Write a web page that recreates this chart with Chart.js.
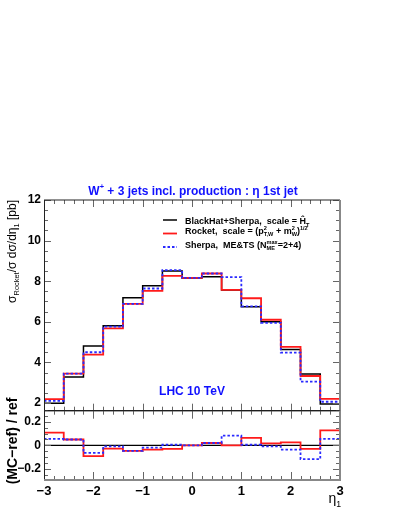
<!DOCTYPE html>
<html><head><meta charset="utf-8">
<script src="https://cdn.jsdelivr.net/npm/chart.js@4.4.0/dist/chart.umd.min.js"></script>
<style>
html,body{margin:0;padding:0;background:#fff;}
#wrap{position:relative;width:399px;height:516px;background:#fff;}
canvas{position:absolute;left:0;top:0;}
</style></head><body>
<div id="wrap">
<canvas id="main" width="399" height="516"></canvas>
<canvas id="ratio" width="399" height="516"></canvas>
</div>
<script>
// ---- data ----
const binEdges = [-3.0,-2.6,-2.2,-1.8,-1.4,-1.0,-0.6,-0.2,0.2,0.6,1.0,1.4,1.8,2.2,2.6,3.0];
const blackHatSherpa = [1.99,3.28,4.81,5.81,7.19,7.78,8.50,8.16,8.22,7.57,6.74,6.00,4.64,3.43,1.95];
const rocket        = [2.19,3.45,4.38,5.68,6.88,7.52,8.26,8.16,8.38,7.57,7.16,6.10,4.76,3.33,2.20];
const sherpaMETS    = [2.10,3.45,4.50,5.76,6.88,7.64,8.55,8.16,8.38,8.20,6.76,5.95,4.48,3.05,2.06];
const ratioRef      = [0,0,0,0,0,0,0,0,0,0,0,0,0,0,0];
const ratioRocket   = [0.108,0.050,-0.092,-0.028,-0.047,-0.036,-0.030,0.000,0.020,0.000,0.064,0.017,0.025,-0.030,0.128];
const ratioSherpa   = [0.055,0.050,-0.064,-0.008,-0.047,-0.020,0.005,0.000,0.020,0.083,0.005,-0.008,-0.036,-0.117,0.055];
const xTickValues = [-3,-2,-1,0,1,2,3];
const xTickLabels = ['\u22123','\u22122','\u22121','0','1','2','3'];
const yTickValues = [2,4,6,8,10,12];
const yTickLabels = ['2','4','6','8','10','12'];
const rTickValues = [-0.2,0,0.2];
const rTickLabels = ['\u22120.2','0','0.2'];

const FONT = '"Liberation Sans", Arial, Helvetica, sans-serif';
const BLUE = '#1010ff';

function histPoints(vals){
  const pts = vals.map((v,i)=>({x:binEdges[i], y:v}));
  pts.push({x:binEdges[vals.length], y:vals[vals.length-1]});
  return pts;
}

function richText(ctx, x, y, parts, size, weight, measureOnly){
  let cx = x;
  for (const p of parts){
    if (typeof p === 'string'){
      ctx.font = `${weight} ${size}px ${FONT}`;
      if(!measureOnly) ctx.fillText(p, cx, y);
      cx += ctx.measureText(p).width;
    } else {
      const s = size*0.62;
      ctx.font = `${weight} ${s}px ${FONT}`;
      let w = 0;
      if (p.sup){ if(!measureOnly) ctx.fillText(p.sup, cx, y - size*0.42); w = Math.max(w, ctx.measureText(p.sup).width); }
      if (p.sub){ if(!measureOnly) ctx.fillText(p.sub, cx, y + size*0.28); w = Math.max(w, ctx.measureText(p.sub).width); }
      cx += w;
    }
  }
  return cx - x;
}

function drawTicksFrame(chart, o){
  const {ctx, chartArea:a} = chart;
  const xs = chart.scales.x, ys = chart.scales.y;
  ctx.save();
  ctx.strokeStyle = '#666'; ctx.lineWidth = 1;
  const line=(x1,y1,x2,y2)=>{ctx.beginPath();ctx.moveTo(x1,y1);ctx.lineTo(x2,y2);ctx.stroke();};
  for (let v=-3; v<=3.0001; v+=0.2){
    const major = Math.abs(v-Math.round(v))<1e-6;
    const len = major ? o.xMaj : o.xMin;
    const px = Math.round(xs.getPixelForValue(v))+0.5;
    line(px, a.bottom, px, a.bottom-len);
    line(px, a.top, px, a.top+len);
  }
  for (let v=o.yStart; v<=o.yEnd+1e-9; v+=o.yStep){
    const major = Math.abs(v/o.yMajor - Math.round(v/o.yMajor))<1e-6;
    const len = major ? o.yMajLen : o.yMinLen;
    const py = Math.round(ys.getPixelForValue(v))+0.5;
    if (py < a.top-0.5 || py > a.bottom+0.5) continue;
    line(a.left, py, a.left+len, py);
    line(a.right, py, a.right-len, py);
  }
  ctx.strokeStyle = '#222'; ctx.lineWidth = 1;
  line(a.left+0.5, a.top, a.left+0.5, a.bottom);
  line(a.left, a.top, a.right, a.top);
  ctx.strokeStyle = '#888'; ctx.lineWidth = 2;
  line(a.right, a.top, a.right, a.bottom+1);
  if (o.grayBottom){ line(a.left, a.bottom, a.right+1, a.bottom); }
  else { ctx.strokeStyle = '#111'; ctx.lineWidth = 1.2; line(a.left, a.bottom, a.right, a.bottom); }
  ctx.restore();
}

const mainDecor = {
  id:'mainDecor',
  afterDatasetsDraw(chart){
    drawTicksFrame(chart, {xMaj:7, xMin:4, yStart:2, yEnd:12, yStep:0.5, yMajor:2, yMajLen:7, yMinLen:4, grayBottom:false});
    const ctx = chart.ctx;
    ctx.save();
    ctx.textBaseline = 'alphabetic';
    ctx.fillStyle = BLUE;
    const tparts = ['W', {sup:'+'}, ' + 3 jets incl. production : \u03b7 1st jet'];
    const tw = richText(ctx,0,0,tparts,12,'bold',true);
    richText(ctx, 193 - tw/2, 194.5, tparts, 12, 'bold');
    ctx.font = `bold 12px ${FONT}`;
    ctx.textAlign = 'center';
    ctx.fillText('LHC 10 TeV', 192, 394.5);
    ctx.textAlign = 'left';
    const lx1 = 163, lx2 = 177, tx = 185;
    const rows = [
      {color:'#000', dash:[], lw:1.5, ly:220, ty:224,
       parts:['BlackHat+Sherpa,  scale = \u0124', {sub:'T'}]},
      {color:'#ff1a1a', dash:[], lw:1.8, ly:233.5, ty:233.5,
       parts:['Rocket,  scale = (p', {sup:'2', sub:'T,W'}, ' + m', {sup:'2', sub:'W'}, ')', {sup:'1/2'}]},
      {color:'#2a2aff', dash:[2.5,2], lw:1.8, ly:247, ty:247.5,
       parts:['Sherpa,  ME&TS (N', {sup:'max', sub:'ME'}, '=2+4)']}
    ];
    for (const r of rows){
      ctx.strokeStyle = r.color; ctx.lineWidth = r.lw; ctx.setLineDash(r.dash);
      ctx.beginPath(); ctx.moveTo(lx1, r.ly); ctx.lineTo(lx2, r.ly); ctx.stroke();
      ctx.setLineDash([]);
      ctx.fillStyle = '#000';
      richText(ctx, tx, r.ty, r.parts, 9, 'bold');
    }
    ctx.save();
    ctx.fillStyle = '#000';
    const yparts = ['\u03c3', {sub:'Rocket'}, '/\u03c3 d\u03c3/d\u03b7', {sub:'1'}, ' [pb]'];
    const yw = richText(ctx,0,0,yparts,12,'normal',true);
    ctx.translate(16, 200);
    ctx.rotate(-Math.PI/2);
    richText(ctx, -yw, 0, yparts, 12, 'normal');
    ctx.restore();
    ctx.restore();
  }
};

const ratioDecor = {
  id:'ratioDecor',
  afterDatasetsDraw(chart){
    drawTicksFrame(chart, {xMaj:8, xMin:4, yStart:-0.3, yEnd:0.3, yStep:0.05, yMajor:0.2, yMajLen:7, yMinLen:4, grayBottom:true});
    const ctx = chart.ctx;
    ctx.save();
    ctx.fillStyle = '#000';
    ctx.textBaseline = 'alphabetic';
    const xparts = ['\u03b7', {sub:'1'}];
    const xw = richText(ctx,0,0,xparts,14,'normal',true);
    richText(ctx, 341 - xw, 503, xparts, 14, 'normal');
    ctx.save();
    ctx.font = `bold 14px ${FONT}`;
    ctx.translate(17, 441);
    ctx.rotate(-Math.PI/2);
    ctx.textAlign = 'center';
    ctx.fillText('(MC\u2212ref) / ref', 0, 0);
    ctx.restore();
    ctx.restore();
  }
};

const lineDS = (label, pts, color, width, dash, order) => ({
  label, data: pts, borderColor: color, borderWidth: width, borderDash: dash,
  stepped: 'before', pointRadius: 0, fill: false, order, tension: 0
});

Chart.defaults.font.family = FONT;
Chart.defaults.color = '#000';

new Chart(document.getElementById('main'), {
  type: 'line',
  data: { datasets: [
    lineDS('BlackHat+Sherpa', histPoints(blackHatSherpa), '#000', 1.5, [], 2),
    lineDS('Rocket', histPoints(rocket), '#ff1a1a', 1.8, [], 1),
    lineDS('Sherpa ME&TS', histPoints(sherpaMETS), '#2a2aff', 1.8, [2.5,2], 0)
  ]},
  options: {
    responsive: false, devicePixelRatio: 1, animation: false,
    layout: { padding: { top: 200, left: 0, right: 59, bottom: 516-410.7 } },
    plugins: { legend: {display:false}, tooltip: {enabled:false}, title: {display:false} },
    scales: {
      x: { type:'linear', min:-3, max:3, display:false },
      y: { type:'linear', min:1.62, max:12,
           grid:{display:false, drawTicks:false}, border:{display:false},
           afterBuildTicks: s => { s.ticks = yTickValues.map(v=>({value:v})); },
           afterFit: s => { s.width = 44; },
           ticks:{ padding:3, font:{size:12, weight:'bold'}, color:'#000',
                   callback: (v) => yTickLabels[yTickValues.indexOf(v)] } }
    }
  },
  plugins: [mainDecor]
});

new Chart(document.getElementById('ratio'), {
  type: 'line',
  data: { datasets: [
    lineDS('ref', histPoints(ratioRef), '#000', 1.3, [], 2),
    lineDS('Rocket', histPoints(ratioRocket), '#ff1a1a', 1.8, [], 1),
    lineDS('Sherpa ME&TS', histPoints(ratioSherpa), '#2a2aff', 1.8, [2.5,2], 0)
  ]},
  options: {
    responsive: false, devicePixelRatio: 1, animation: false,
    layout: { padding: { top: 410.7, left: 0, right: 59, bottom: 0 } },
    plugins: { legend: {display:false}, tooltip: {enabled:false} },
    scales: {
      x: { type:'linear', min:-3, max:3,
           grid:{display:false, drawTicks:false}, border:{display:false},
           afterBuildTicks: s => { s.ticks = xTickValues.map(v=>({value:v})); },
           afterFit: s => { s.height = 36; },
           ticks:{ padding:4, font:{size:13, weight:'bold'}, color:'#000', maxRotation:0,
                   callback: (v) => xTickLabels[xTickValues.indexOf(v)] } },
      y: { type:'linear', min:-0.295, max:0.295,
           grid:{display:false, drawTicks:false}, border:{display:false},
           afterBuildTicks: s => { s.ticks = rTickValues.map(v=>({value:v})); },
           afterFit: s => { s.width = 44; },
           ticks:{ padding:3, font:{size:12, weight:'bold'}, color:'#000',
                   callback: (v) => rTickLabels[rTickValues.indexOf(v)] } }
    }
  },
  plugins: [ratioDecor]
});
</script>
</body></html>
